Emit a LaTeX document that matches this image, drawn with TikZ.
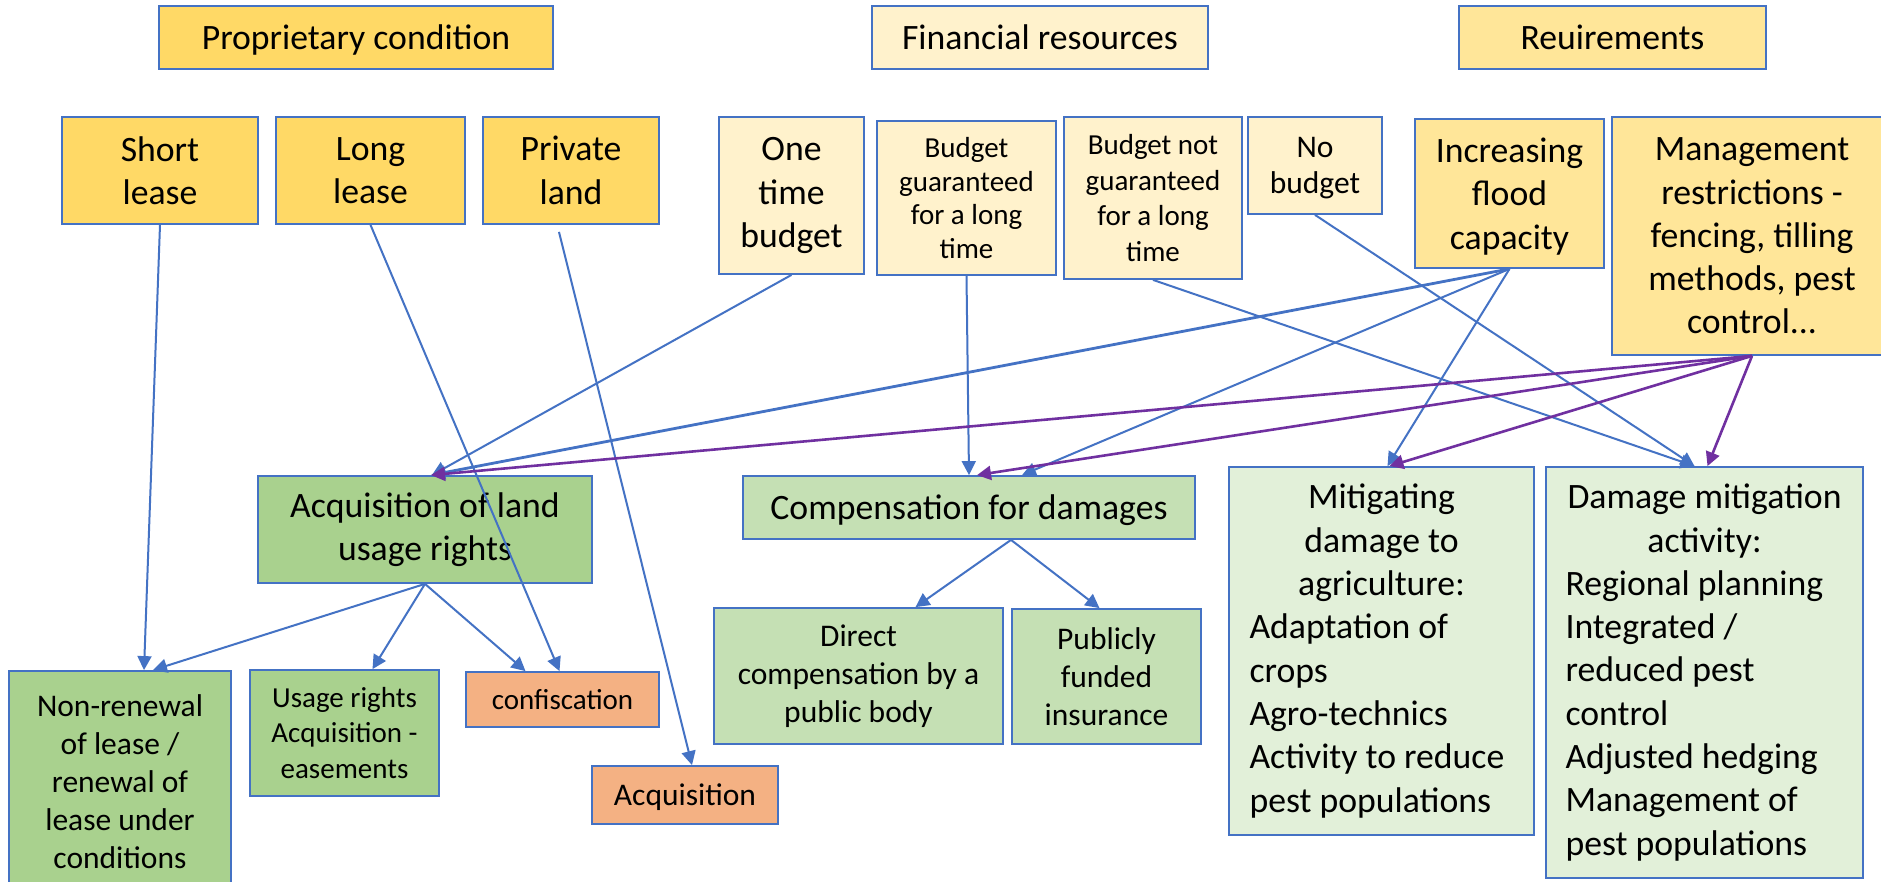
\documentclass[tikz,border=0pt]{standalone}
\usepackage{fontspec}
\setmainfont{Carlito}
\usetikzlibrary{arrows.meta,calc}
\definecolor{obl}{HTML}{4472C4}
\definecolor{opu}{HTML}{7030A0}
\definecolor{cgold}{HTML}{FFD966}
\definecolor{cltgold}{HTML}{FFF2CC}
\definecolor{cmidgold}{HTML}{FFE699}
\definecolor{cgrn}{HTML}{A9D18E}
\definecolor{cltgrn}{HTML}{C5E0B4}
\definecolor{cpgrn}{HTML}{E2F0D9}
\definecolor{corg}{HTML}{F4B183}
\newcommand\fmain{\fontsize{17.85pt}{21.65pt}\selectfont}
\newcommand\fmed{\fontsize{15.75pt}{19pt}\selectfont}
\newcommand\fnob{\fontsize{15.75pt}{18pt}\selectfont}
\newcommand\fsmall{\fontsize{14.5pt}{17.8pt}\selectfont}
\newcommand\fsmallb{\fontsize{14.5pt}{16.8pt}\selectfont}
\newcommand\bx[7]{\node[bx,#6,minimum width={(#4-#2)*0.5pt},minimum height={(#5-#3)*0.5pt}] (#1) at ({(#2+#4)/2},{(#3+#5)/2}) {#7};}
\tikzset{
  bx/.style={draw=obl,line width=0.9pt,inner sep=0pt,align=center,font=\fmain},
  flat/.style={text depth=0pt},
  conn/.style={draw=obl,line width=1pt,-{Triangle[length=7pt,width=7pt]}},
  pconn/.style={draw=opu,line width=1.3pt,-{Triangle[length=7pt,width=7pt]}}
}
\begin{document}
\begin{tikzpicture}[x=0.5pt,y=-0.5pt]
\useasboundingbox (0,0) rectangle (1881,882);
\fill[white] (0,0) rectangle (1881,882);
% headers
\bx{prop}{159}{6}{553}{69}{fill=cgold,flat}{Proprietary condition}
\bx{fin}{872}{6}{1208}{69}{fill=cltgold,flat}{Financial resources}
\bx{req}{1459}{6}{1766}{69}{fill=cmidgold,flat}{Reuirements}
% second row
\bx{short}{62}{117}{258}{224}{fill=cgold}{Short\\lease}
\bx{long}{276}{117}{465}{224}{fill=cgold}{Long\\lease}
\bx{priv}{483}{117}{659}{224}{fill=cgold}{Private\\land}
\bx{one}{719}{117}{864}{274}{fill=cltgold}{One\\time\\budget}
\bx{bg}{877}{121}{1056}{275}{fill=cltgold,font=\fsmallb}{Budget\\guaranteed\\for a long\\time}
\bx{bng}{1064}{117}{1242}{279}{fill=cltgold,font=\fsmall}{Budget not\\guaranteed\\for a long\\time}
\bx{nob}{1248}{117}{1382}{214}{fill=cltgold,font=\fnob,flat}{No\\budget}
\bx{inc}{1415}{119}{1604}{268}{fill=cmidgold,flat}{Increasing\\flood\\capacity}
\bx{mgmt}{1612}{117}{1892}{355}{fill=cmidgold}{Management\\restrictions -\\fencing, tilling\\methods, pest\\control...}
% third row
\bx{acq}{258}{476}{592}{583}{fill=cgrn}{Acquisition of land\\usage rights}
\bx{comp}{743}{476}{1195}{539}{fill=cltgrn,flat}{Compensation for damages}
\bx{mitag}{1229}{467}{1534}{835}{fill=cpgrn,align=left}{\makebox[132pt][c]{Mitigating}\\\makebox[132pt][c]{damage to}\\\makebox[132pt][c]{agriculture:}\\Adaptation of\\crops\\Agro-technics\\Activity to reduce\\pest populations}
\bx{dmg}{1546}{467}{1863}{878}{fill=cpgrn,align=left}{\makebox[139pt][c]{Damage mitigation}\\\makebox[139pt][c]{activity:}\\Regional planning\\Integrated /\\reduced pest\\control\\Adjusted hedging\\Management of\\pest populations}
% fourth row
\bx{nonren}{9}{671}{231}{892}{fill=cgrn,font=\fmed}{Non-renewal\\of lease /\\renewal of\\lease under\\conditions}
\bx{usage}{250}{670}{439}{796}{fill=cgrn,font=\fsmall}{Usage rights\\Acquisition -\\easements}
\bx{confis}{466}{672}{659}{727}{fill=corg,font=\fsmall,flat}{confiscation}
\bx{acqui}{592}{766}{778}{824}{fill=corg,font=\fmed,flat}{Acquisition}
\bx{direct}{714}{608}{1003}{744}{fill=cltgrn,font=\fmed}{Direct\\compensation by a\\public body}
\bx{public}{1012}{609}{1201}{744}{fill=cltgrn,font=\fmed}{Publicly\\funded\\insurance}
% connectors (blue)
\draw[conn] (short.south) -- ($(nonren.north)+(24,0)$);
\draw[conn] (long.south) -- ($(confis.north)+(-3,0)$);
\draw[conn] ($(priv.south)+(-12,7)$) -- ($(acqui.north)+(7,0)$);
\draw[conn] (one.south) -- ($(acq.north)+(7,0)$);
\draw[conn] (bg.south) -- (comp.north);
\draw[conn] (bng.south) -- ($(dmg.north)+(-10,0)$);
\draw[conn] (nob.south) -- ($(dmg.north)+(-10,0)$);
\draw[conn,line width=1.4pt] (inc.south) -- ($(acq.north)+(6,0)$);
\draw[conn] (inc.south) -- ($(comp.north)+(53,0)$);
\draw[conn] (inc.south) -- ($(mitag.north)+(6,0)$);
\draw[conn] (acq.south) -- ($(nonren.north)+(33,0)$);
\draw[conn] (acq.south) -- ($(usage.north)+(28,0)$);
\draw[conn] (acq.south) -- ($(confis.north)+(-37,0)$);
\draw[conn] ($(comp.south)+(42,0)$) -- ($(direct.north)+(57,0)$);
\draw[conn] ($(comp.south)+(42,0)$) -- ($(public.north)+(-7,0)$);
% connectors (purple)
\draw[pconn] (mgmt.south) -- ($(acq.north)+(6,0)$);
\draw[pconn] (mgmt.south) -- ($(comp.north)+(8,0)$);
\draw[pconn] (mgmt.south) -- ($(mitag.north)+(8,0)$);
\draw[pconn] (mgmt.south) -- ($(dmg.north)+(3,0)$);
\end{tikzpicture}
\end{document}
